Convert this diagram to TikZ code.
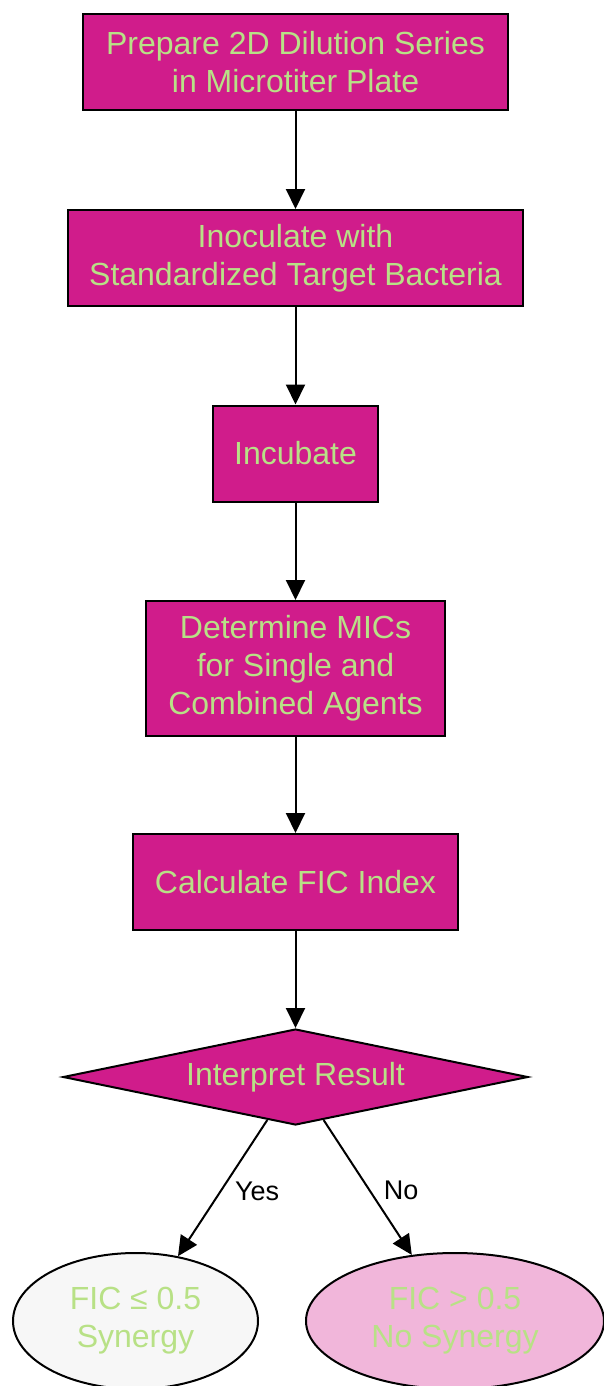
\documentclass[tikz,border=0pt]{standalone}
\usepackage{fontspec}
\setmainfont{Liberation Sans}
\usetikzlibrary{positioning,arrows.meta,shapes.geometric,calc}

\definecolor{stepfill}{HTML}{D01C8B}
\definecolor{steptext}{HTML}{B8E186}
\definecolor{synfill}{HTML}{F7F7F7}
\definecolor{nosynfill}{HTML}{F1B6DA}

\tikzset{
  stepbox/.style={draw, line width=2pt, fill=stepfill, text=steptext, align=center, minimum height=96pt, font=\fontsize{32}{38}\selectfont, inner sep=0pt},
  decide/.style={draw, line width=2pt, fill=stepfill, text=steptext, diamond, aspect=4.84, minimum width=465pt, minimum height=96pt, inner sep=0pt, font=\fontsize{32}{38}\selectfont},
  outcome/.style={draw, line width=2pt, ellipse, text=steptext, align=center, minimum height=136pt, inner sep=0pt, font=\fontsize{32}{38}\selectfont},
  flow/.style={-{Triangle[length=20pt,width=19pt]}, line width=2pt},
  elabel/.style={font=\fontsize{27}{30}\selectfont, text=black}
}

\begin{document}
\begin{tikzpicture}[x=1pt, y=-1pt]
    \useasboundingbox (0,0) rectangle (604,1386);

    %coordinates
    \coordinate (P0) at (295.5,62);
    \coordinate (P1) at (295.5,258);
    \coordinate (P2) at (295.5,453.5);
    \coordinate (P3) at (295.5,668.5);
    \coordinate (P4) at (295.5,882);
    \coordinate (P5) at (295.5,1077);
    \coordinate (S0) at (135.5,1321);
    \coordinate (S1) at (455,1321);

    %nodes
    \node[stepbox, minimum width=425pt] (prep) at (P0) {Prepare 2D Dilution Series\\in Microtiter Plate};
    \node[stepbox, minimum width=455pt] (inoc) at (P1) {Inoculate with\\Standardized Target Bacteria};
    \node[stepbox, minimum width=165pt] (incub) at (P2) {Incubate};
    \node[stepbox, minimum width=299pt, minimum height=135pt] (mic) at (P3) {Determine MICs\\for Single and\\Combined Agents};
    \node[stepbox, minimum width=325pt] (fic) at (P4) {Calculate FIC Index};
    \node[decide] (interp) at (P5) {Interpret Result};
    \node[outcome, fill=synfill, minimum width=245pt] (syn) at (S0) {FIC ≤ 0.5\\Synergy};
    \node[outcome, fill=nosynfill, minimum width=298pt] (nosyn) at (S1) {FIC > 0.5\\No Synergy};

    %edges
    \draw[flow] (prep) -- (inoc);
    \draw[flow] (inoc) -- (incub);
    \draw[flow] (incub) -- (mic);
    \draw[flow] (mic) -- (fic);
    \draw[flow] (fic) -- (interp);
    \draw[flow] (interp) -- node[elabel, anchor=west, pos=0.52, xshift=10pt]{Yes} (syn);
    \draw[flow] (interp) -- node[elabel, anchor=west, pos=0.52, xshift=10pt]{No} (nosyn);
  \end{tikzpicture}
\end{document}
